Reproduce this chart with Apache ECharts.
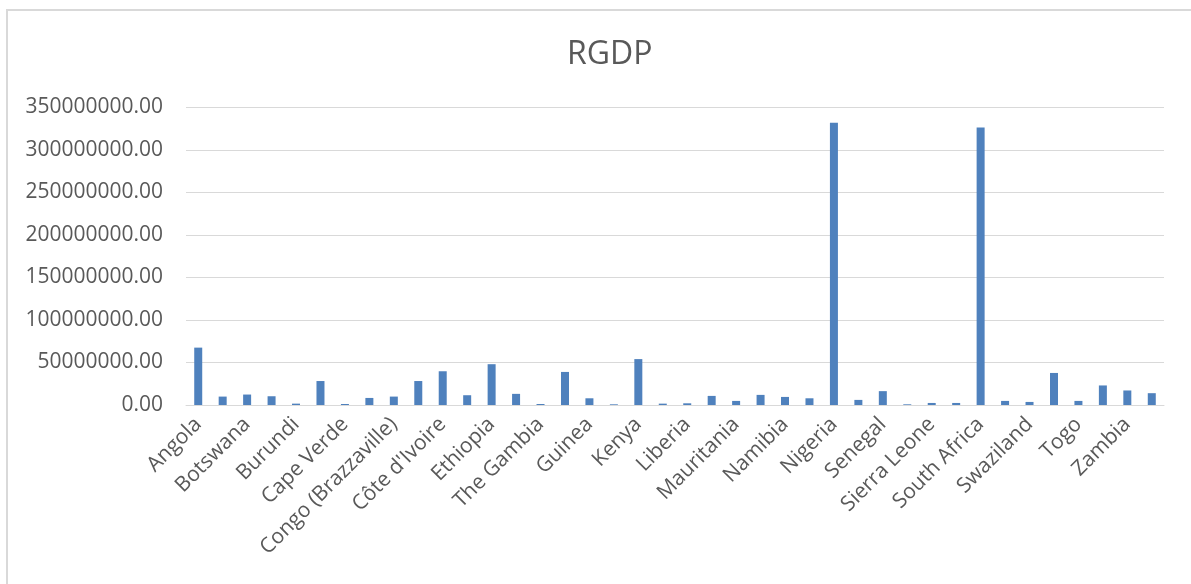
<!DOCTYPE html>
<html>
<head>
<meta charset="utf-8">
<title>RGDP</title>
<script src="https://cdn.jsdelivr.net/npm/echarts@6/dist/echarts.min.js"></script>
<style>
  html, body { margin: 0; padding: 0; background: #fff; overflow: hidden; }
  #frame { position: absolute; left: 6px; top: 9px; width: 1400px; height: 800px;
           border: 2px solid #d9d9d9; box-sizing: border-box; }
  #chart { position: absolute; left: 0; top: 0; width: 1191px; height: 584px; }
</style>
</head>
<body>
<div id="frame"></div>
<div id="chart"></div>
<script>
// Countries (alphabetical)
const countries = [
  'Angola', 'Benin', 'Botswana', 'Burkina Faso', 'Burundi', 'Cameroon',
  'Cape Verde', 'Chad', 'Congo (Brazzaville)', 'Congo (Kinshasa)',
  "Côte d'Ivoire", 'Equatorial Guinea', 'Ethiopia', 'Gabon', 'The Gambia',
  'Ghana', 'Guinea', 'Guinea-Bissau', 'Kenya', 'Lesotho', 'Liberia',
  'Madagascar', 'Mauritania', 'Mauritius', 'Namibia', 'Niger', 'Nigeria',
  'Rwanda', 'Senegal', 'Seychelles', 'Sierra Leone', 'Somalia',
  'South Africa', 'Sudan', 'Swaziland', 'Tanzania', 'Togo', 'Uganda',
  'Zambia', 'Zimbabwe'
];

// Real GDP per country
const rgdp = [
  67500000, 9900000, 12300000, 10300000, 1600000, 28200000,
  1200000, 8300000, 9900000, 28200000,
  39700000, 11500000, 48000000, 13100000, 1200000,
  38900000, 7900000, 800000, 54000000, 1600000, 2000000,
  10700000, 4800000, 11900000, 9500000, 7900000, 332000000,
  6000000, 16300000, 800000, 2400000, 2400000,
  326600000, 4800000, 3600000, 37700000, 4800000, 23000000,
  17100000, 13900000
];

// Value axis ticks
const yMin = 0;
const yMax = 350000000;
const yStep = 50000000;

const textColor = '#595959';
const gridColor = '#d9d9d9';
const font = '"Open Sans", "Liberation Sans", sans-serif';

const chart = echarts.init(document.getElementById('chart'));
chart.setOption({
  animation: false,
  backgroundColor: 'transparent',
  title: {
    text: 'RGDP',
    left: 562,
    top: 34,
    textStyle: { fontFamily: font, fontSize: 32, fontWeight: 'normal', color: textColor }
  },
  grid: { left: 186, right: 27, top: 107.5, bottom: 179, containLabel: false },
  xAxis: {
    type: 'category',
    data: countries,
    axisLine: { show: true, lineStyle: { color: gridColor, width: 1 } },
    axisTick: { show: false },
    axisLabel: {
      interval: 1,
      rotate: 45,
      margin: 16,
      color: textColor,
      fontFamily: font,
      fontSize: 21
    }
  },
  yAxis: {
    type: 'value',
    min: yMin,
    max: yMax,
    interval: yStep,
    axisLine: { show: false },
    axisTick: { show: false },
    splitLine: { lineStyle: { color: gridColor, width: 1 } },
    axisLabel: {
      margin: 23,
      color: textColor,
      fontFamily: font,
      fontSize: 21,
      formatter: v => v.toFixed(2)
    }
  },
  series: [{
    type: 'bar',
    data: rgdp,
    barWidth: 8,
    itemStyle: { color: '#4f81bd' }
  }]
});
</script>
</body>
</html>
